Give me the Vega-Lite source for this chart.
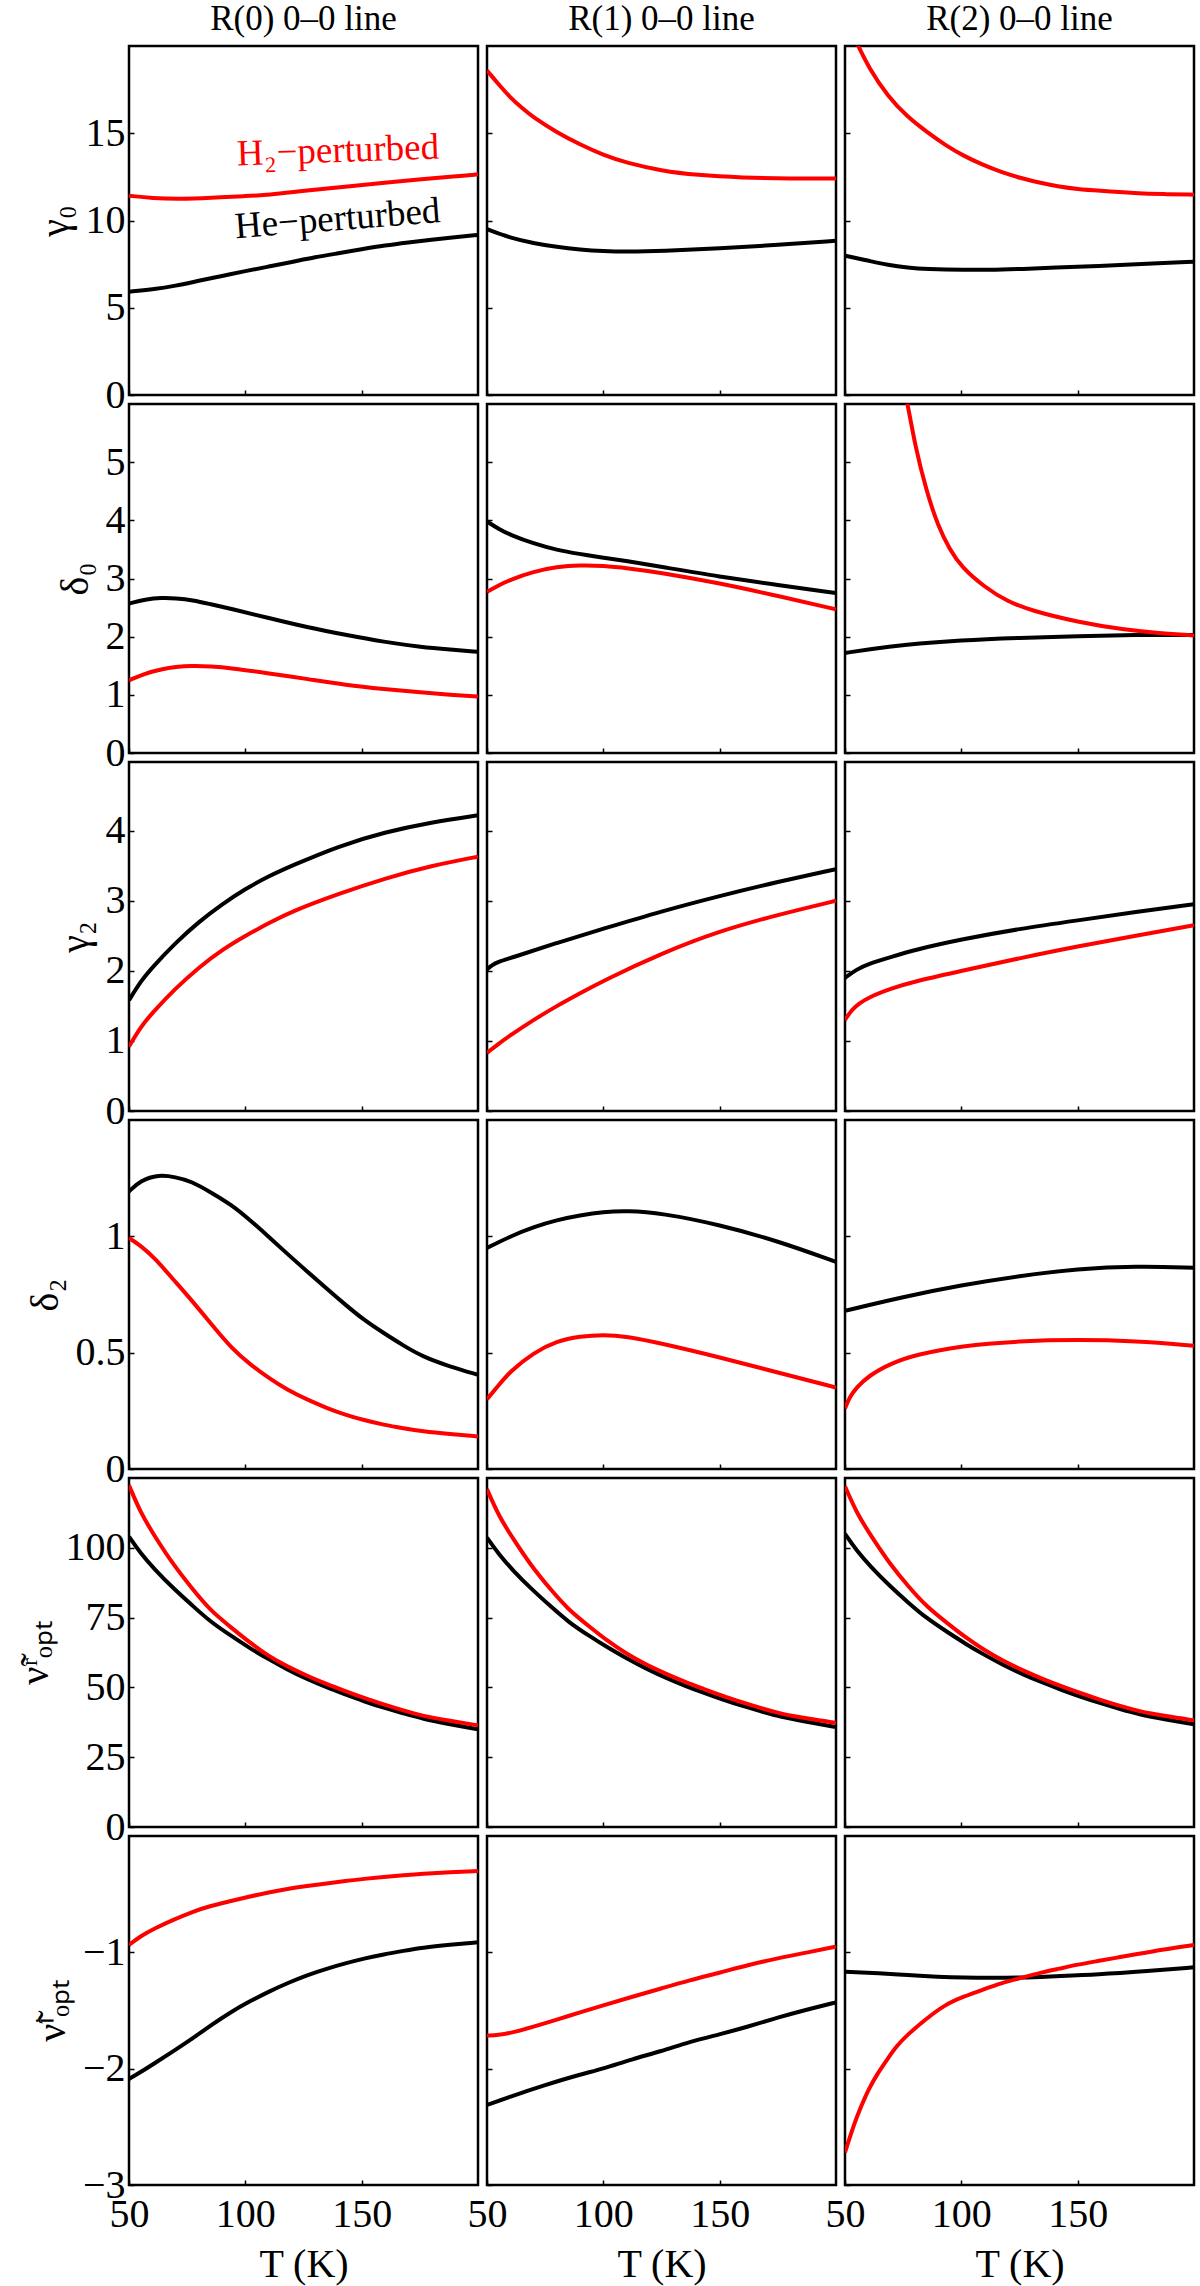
{
  "$schema": "https://vega.github.io/schema/vega-lite/v6.json",
  "background": "white",
  "padding": {"left": 13, "top": 0, "right": 0, "bottom": 0},
  "bounds": "flush",
  "columns": 3,
  "spacing": 9,
  "resolve": {"scale": {"x": "independent", "y": "independent"}},
  "config": {
    "view": {"stroke": "#000000", "strokeWidth": 2.5},
    "style": {"guide-label": {"font": "Liberation Serif", "fontSize": 40, "fill": "#000000"}, "guide-title": {"font": "Liberation Serif", "fontSize": 40, "fill": "#000000", "fontWeight": "normal"}},
    "axis": {"domain": false, "grid": false, "ticks": true, "tickSize": -5, "tickWidth": 1.5, "tickColor": "#000000", "labelFont": "Liberation Serif", "labelFontSize": 40, "labelColor": "#000000", "labelFlush": false, "labelOverlap": false, "titleFont": "Liberation Serif", "titleFontSize": 40, "titleFontWeight": "normal", "titleColor": "#000000"},
    "axisX": {"labelPadding": 14, "titlePadding": 10},
    "axisY": {"labelPadding": 9, "titlePadding": 10},
    "title": {"font": "Liberation Serif", "fontSize": 35, "fontWeight": "normal", "color": "#000000", "offset": 9, "baseline": "alphabetic"}
  },
  "datasets": {
    "lab": [{"g": "H2", "T": 140, "v": 13.35, "t": "H₂−perturbed"}, {"g": "He", "T": 140, "v": 9.45, "t": "He−perturbed"}],
    "g0_0": [
      {"g": "He", "T": 50, "v": 5.92}, {"g": "He", "T": 60, "v": 6.05}, {"g": "He", "T": 70, "v": 6.25}, {"g": "He", "T": 80, "v": 6.55}, {"g": "He", "T": 90, "v": 6.82}, {"g": "He", "T": 100, "v": 7.1}, {"g": "He", "T": 110, "v": 7.36}, {"g": "He", "T": 120, "v": 7.62}, {"g": "He", "T": 130, "v": 7.9}, {"g": "He", "T": 140, "v": 8.12}, {"g": "He", "T": 150, "v": 8.35}, {"g": "He", "T": 160, "v": 8.57}, {"g": "He", "T": 170, "v": 8.74}, {"g": "He", "T": 180, "v": 8.9}, {"g": "He", "T": 190, "v": 9.05}, {"g": "He", "T": 200, "v": 9.17},
      {"g": "H2", "T": 50, "v": 11.42}, {"g": "H2", "T": 60, "v": 11.28}, {"g": "H2", "T": 72, "v": 11.23}, {"g": "H2", "T": 85, "v": 11.3}, {"g": "H2", "T": 100, "v": 11.4}, {"g": "H2", "T": 110, "v": 11.46}, {"g": "H2", "T": 125, "v": 11.7}, {"g": "H2", "T": 143, "v": 11.94}, {"g": "H2", "T": 160, "v": 12.17}, {"g": "H2", "T": 176, "v": 12.38}, {"g": "H2", "T": 190, "v": 12.52}, {"g": "H2", "T": 200, "v": 12.65}
    ],
    "g0_1": [
      {"g": "He", "T": 50, "v": 9.5}, {"g": "He", "T": 60, "v": 9.0}, {"g": "He", "T": 70, "v": 8.7}, {"g": "He", "T": 80, "v": 8.48}, {"g": "He", "T": 90, "v": 8.33}, {"g": "He", "T": 100, "v": 8.24}, {"g": "He", "T": 110, "v": 8.21}, {"g": "He", "T": 125, "v": 8.24}, {"g": "He", "T": 150, "v": 8.4}, {"g": "He", "T": 175, "v": 8.6}, {"g": "He", "T": 200, "v": 8.84},
      {"g": "H2", "T": 50, "v": 18.6}, {"g": "H2", "T": 55, "v": 17.8}, {"g": "H2", "T": 60, "v": 17.05}, {"g": "H2", "T": 65, "v": 16.45}, {"g": "H2", "T": 70, "v": 15.9}, {"g": "H2", "T": 80, "v": 15.05}, {"g": "H2", "T": 90, "v": 14.35}, {"g": "H2", "T": 100, "v": 13.75}, {"g": "H2", "T": 110, "v": 13.3}, {"g": "H2", "T": 125, "v": 12.85}, {"g": "H2", "T": 140, "v": 12.6}, {"g": "H2", "T": 160, "v": 12.45}, {"g": "H2", "T": 180, "v": 12.4}, {"g": "H2", "T": 200, "v": 12.4}
    ],
    "g0_2": [
      {"g": "He", "T": 50, "v": 7.98}, {"g": "He", "T": 60, "v": 7.7}, {"g": "He", "T": 68.5, "v": 7.45}, {"g": "He", "T": 77, "v": 7.3}, {"g": "He", "T": 85, "v": 7.22}, {"g": "He", "T": 101, "v": 7.16}, {"g": "He", "T": 115, "v": 7.18}, {"g": "He", "T": 126, "v": 7.22}, {"g": "He", "T": 140, "v": 7.3}, {"g": "He", "T": 158.6, "v": 7.39}, {"g": "He", "T": 180, "v": 7.52}, {"g": "He", "T": 200, "v": 7.64},
      {"g": "H2", "T": 50, "v": 21.6}, {"g": "H2", "T": 55, "v": 20.2}, {"g": "H2", "T": 60.3, "v": 18.72}, {"g": "H2", "T": 68.5, "v": 17.1}, {"g": "H2", "T": 76.7, "v": 15.95}, {"g": "H2", "T": 85, "v": 15.09}, {"g": "H2", "T": 93, "v": 14.33}, {"g": "H2", "T": 101, "v": 13.7}, {"g": "H2", "T": 109.4, "v": 13.18}, {"g": "H2", "T": 117, "v": 12.78}, {"g": "H2", "T": 125.8, "v": 12.42}, {"g": "H2", "T": 134, "v": 12.15}, {"g": "H2", "T": 142.2, "v": 11.94}, {"g": "H2", "T": 150, "v": 11.8}, {"g": "H2", "T": 158.6, "v": 11.71}, {"g": "H2", "T": 175, "v": 11.56}, {"g": "H2", "T": 187, "v": 11.51}, {"g": "H2", "T": 200, "v": 11.48}
    ],
    "d0_0": [
      {"g": "He", "T": 50, "v": 2.57}, {"g": "He", "T": 57, "v": 2.64}, {"g": "He", "T": 64, "v": 2.67}, {"g": "He", "T": 70, "v": 2.66}, {"g": "He", "T": 77.4, "v": 2.63}, {"g": "He", "T": 85, "v": 2.56}, {"g": "He", "T": 93.8, "v": 2.48}, {"g": "He", "T": 110, "v": 2.32}, {"g": "He", "T": 126.6, "v": 2.16}, {"g": "He", "T": 143, "v": 2.03}, {"g": "He", "T": 159.5, "v": 1.91}, {"g": "He", "T": 176, "v": 1.82}, {"g": "He", "T": 188, "v": 1.78}, {"g": "He", "T": 200, "v": 1.74},
      {"g": "H2", "T": 50, "v": 1.25}, {"g": "H2", "T": 57, "v": 1.37}, {"g": "H2", "T": 64, "v": 1.44}, {"g": "H2", "T": 70, "v": 1.48}, {"g": "H2", "T": 77, "v": 1.5}, {"g": "H2", "T": 85, "v": 1.49}, {"g": "H2", "T": 94, "v": 1.46}, {"g": "H2", "T": 110, "v": 1.37}, {"g": "H2", "T": 127, "v": 1.27}, {"g": "H2", "T": 143, "v": 1.17}, {"g": "H2", "T": 159.5, "v": 1.1}, {"g": "H2", "T": 176, "v": 1.04}, {"g": "H2", "T": 188, "v": 1.0}, {"g": "H2", "T": 200, "v": 0.97}
    ],
    "d0_1": [
      {"g": "He", "T": 50, "v": 3.98}, {"g": "He", "T": 55, "v": 3.85}, {"g": "He", "T": 60, "v": 3.75}, {"g": "He", "T": 70, "v": 3.6}, {"g": "He", "T": 80, "v": 3.49}, {"g": "He", "T": 90, "v": 3.42}, {"g": "He", "T": 98, "v": 3.37}, {"g": "He", "T": 110, "v": 3.3}, {"g": "He", "T": 125, "v": 3.2}, {"g": "He", "T": 150, "v": 3.03}, {"g": "He", "T": 175, "v": 2.89}, {"g": "He", "T": 200, "v": 2.75},
      {"g": "H2", "T": 50, "v": 2.77}, {"g": "H2", "T": 55, "v": 2.88}, {"g": "H2", "T": 60, "v": 2.98}, {"g": "H2", "T": 70, "v": 3.12}, {"g": "H2", "T": 80, "v": 3.2}, {"g": "H2", "T": 90, "v": 3.23}, {"g": "H2", "T": 100, "v": 3.22}, {"g": "H2", "T": 110, "v": 3.18}, {"g": "H2", "T": 125, "v": 3.1}, {"g": "H2", "T": 150, "v": 2.92}, {"g": "H2", "T": 175, "v": 2.7}, {"g": "H2", "T": 200, "v": 2.47}
    ],
    "d0_2": [
      {"g": "He", "T": 50, "v": 1.72}, {"g": "He", "T": 60, "v": 1.78}, {"g": "He", "T": 75, "v": 1.86}, {"g": "He", "T": 100, "v": 1.94}, {"g": "He", "T": 125, "v": 1.98}, {"g": "He", "T": 150, "v": 2.01}, {"g": "He", "T": 175, "v": 2.03}, {"g": "He", "T": 200, "v": 2.03},
      {"g": "H2", "T": 70, "v": 7.3}, {"g": "H2", "T": 77, "v": 6.0}, {"g": "H2", "T": 80, "v": 5.3}, {"g": "H2", "T": 85, "v": 4.5}, {"g": "H2", "T": 90, "v": 3.9}, {"g": "H2", "T": 95, "v": 3.5}, {"g": "H2", "T": 100, "v": 3.2}, {"g": "H2", "T": 110, "v": 2.85}, {"g": "H2", "T": 120, "v": 2.6}, {"g": "H2", "T": 130, "v": 2.45}, {"g": "H2", "T": 150, "v": 2.25}, {"g": "H2", "T": 170, "v": 2.12}, {"g": "H2", "T": 185, "v": 2.06}, {"g": "H2", "T": 200, "v": 2.02}
    ],
    "g2_0": [
      {"g": "He", "T": 50, "v": 1.58}, {"g": "He", "T": 55, "v": 1.85}, {"g": "He", "T": 60, "v": 2.05}, {"g": "He", "T": 70, "v": 2.4}, {"g": "He", "T": 80, "v": 2.7}, {"g": "He", "T": 90, "v": 2.95}, {"g": "He", "T": 100, "v": 3.17}, {"g": "He", "T": 110, "v": 3.35}, {"g": "He", "T": 120, "v": 3.5}, {"g": "He", "T": 140, "v": 3.78}, {"g": "He", "T": 160, "v": 3.98}, {"g": "He", "T": 180, "v": 4.12}, {"g": "He", "T": 200, "v": 4.22},
      {"g": "H2", "T": 50, "v": 0.92}, {"g": "H2", "T": 55, "v": 1.2}, {"g": "H2", "T": 60, "v": 1.4}, {"g": "H2", "T": 70, "v": 1.75}, {"g": "H2", "T": 80, "v": 2.05}, {"g": "H2", "T": 90, "v": 2.3}, {"g": "H2", "T": 100, "v": 2.5}, {"g": "H2", "T": 110, "v": 2.68}, {"g": "H2", "T": 120, "v": 2.85}, {"g": "H2", "T": 140, "v": 3.1}, {"g": "H2", "T": 160, "v": 3.32}, {"g": "H2", "T": 180, "v": 3.5}, {"g": "H2", "T": 200, "v": 3.63}
    ],
    "g2_1": [
      {"g": "He", "T": 50, "v": 2.02}, {"g": "He", "T": 52, "v": 2.08}, {"g": "He", "T": 55, "v": 2.13}, {"g": "He", "T": 60, "v": 2.18}, {"g": "He", "T": 80, "v": 2.4}, {"g": "He", "T": 100, "v": 2.6}, {"g": "He", "T": 125, "v": 2.85}, {"g": "He", "T": 150, "v": 3.07}, {"g": "He", "T": 175, "v": 3.27}, {"g": "He", "T": 200, "v": 3.45},
      {"g": "H2", "T": 50, "v": 0.83}, {"g": "H2", "T": 55, "v": 0.96}, {"g": "H2", "T": 60, "v": 1.08}, {"g": "H2", "T": 70, "v": 1.3}, {"g": "H2", "T": 80, "v": 1.5}, {"g": "H2", "T": 90, "v": 1.68}, {"g": "H2", "T": 100, "v": 1.86}, {"g": "H2", "T": 125, "v": 2.25}, {"g": "H2", "T": 150, "v": 2.57}, {"g": "H2", "T": 175, "v": 2.8}, {"g": "H2", "T": 200, "v": 3.0}
    ],
    "g2_2": [
      {"g": "He", "T": 50, "v": 1.9}, {"g": "He", "T": 55, "v": 2.02}, {"g": "He", "T": 60, "v": 2.1}, {"g": "He", "T": 70, "v": 2.2}, {"g": "He", "T": 80, "v": 2.3}, {"g": "He", "T": 100, "v": 2.45}, {"g": "He", "T": 125, "v": 2.6}, {"g": "He", "T": 150, "v": 2.72}, {"g": "He", "T": 175, "v": 2.84}, {"g": "He", "T": 200, "v": 2.95},
      {"g": "H2", "T": 50, "v": 1.3}, {"g": "H2", "T": 53, "v": 1.45}, {"g": "H2", "T": 56, "v": 1.53}, {"g": "H2", "T": 60, "v": 1.62}, {"g": "H2", "T": 70, "v": 1.75}, {"g": "H2", "T": 80, "v": 1.85}, {"g": "H2", "T": 100, "v": 2.0}, {"g": "H2", "T": 125, "v": 2.18}, {"g": "H2", "T": 150, "v": 2.35}, {"g": "H2", "T": 175, "v": 2.5}, {"g": "H2", "T": 200, "v": 2.65}
    ],
    "d2_0": [
      {"g": "He", "T": 50, "v": 1.193}, {"g": "He", "T": 55, "v": 1.24}, {"g": "He", "T": 62.6, "v": 1.265}, {"g": "He", "T": 70, "v": 1.255}, {"g": "He", "T": 77, "v": 1.236}, {"g": "He", "T": 85, "v": 1.19}, {"g": "He", "T": 94, "v": 1.136}, {"g": "He", "T": 102, "v": 1.07}, {"g": "He", "T": 110, "v": 0.999}, {"g": "He", "T": 118, "v": 0.925}, {"g": "He", "T": 126.6, "v": 0.849}, {"g": "He", "T": 135, "v": 0.775}, {"g": "He", "T": 143, "v": 0.706}, {"g": "He", "T": 151, "v": 0.64}, {"g": "He", "T": 159.5, "v": 0.584}, {"g": "He", "T": 168, "v": 0.53}, {"g": "He", "T": 176, "v": 0.484}, {"g": "He", "T": 188, "v": 0.44}, {"g": "He", "T": 200, "v": 0.405},
      {"g": "H2", "T": 50, "v": 0.993}, {"g": "H2", "T": 55, "v": 0.96}, {"g": "H2", "T": 61, "v": 0.907}, {"g": "H2", "T": 69, "v": 0.815}, {"g": "H2", "T": 77.4, "v": 0.72}, {"g": "H2", "T": 86, "v": 0.615}, {"g": "H2", "T": 94, "v": 0.52}, {"g": "H2", "T": 102, "v": 0.45}, {"g": "H2", "T": 110, "v": 0.391}, {"g": "H2", "T": 118, "v": 0.34}, {"g": "H2", "T": 126.6, "v": 0.298}, {"g": "H2", "T": 135, "v": 0.262}, {"g": "H2", "T": 143, "v": 0.233}, {"g": "H2", "T": 151, "v": 0.21}, {"g": "H2", "T": 159.5, "v": 0.19}, {"g": "H2", "T": 168, "v": 0.175}, {"g": "H2", "T": 176, "v": 0.162}, {"g": "H2", "T": 188, "v": 0.15}, {"g": "H2", "T": 200, "v": 0.14}
    ],
    "d2_1": [
      {"g": "He", "T": 50, "v": 0.95}, {"g": "He", "T": 60, "v": 1.0}, {"g": "He", "T": 70, "v": 1.04}, {"g": "He", "T": 80, "v": 1.07}, {"g": "He", "T": 90, "v": 1.09}, {"g": "He", "T": 100, "v": 1.105}, {"g": "He", "T": 110, "v": 1.11}, {"g": "He", "T": 125, "v": 1.1}, {"g": "He", "T": 150, "v": 1.05}, {"g": "He", "T": 175, "v": 0.98}, {"g": "He", "T": 200, "v": 0.89},
      {"g": "H2", "T": 50, "v": 0.3}, {"g": "H2", "T": 55, "v": 0.36}, {"g": "H2", "T": 60, "v": 0.42}, {"g": "H2", "T": 70, "v": 0.5}, {"g": "H2", "T": 80, "v": 0.55}, {"g": "H2", "T": 90, "v": 0.57}, {"g": "H2", "T": 100, "v": 0.578}, {"g": "H2", "T": 110, "v": 0.57}, {"g": "H2", "T": 125, "v": 0.54}, {"g": "H2", "T": 150, "v": 0.48}, {"g": "H2", "T": 175, "v": 0.415}, {"g": "H2", "T": 200, "v": 0.35}
    ],
    "d2_2": [
      {"g": "He", "T": 50, "v": 0.68}, {"g": "He", "T": 75, "v": 0.74}, {"g": "He", "T": 100, "v": 0.79}, {"g": "He", "T": 125, "v": 0.83}, {"g": "He", "T": 150, "v": 0.86}, {"g": "He", "T": 175, "v": 0.872}, {"g": "He", "T": 200, "v": 0.865},
      {"g": "H2", "T": 50, "v": 0.26}, {"g": "H2", "T": 52, "v": 0.31}, {"g": "H2", "T": 55, "v": 0.35}, {"g": "H2", "T": 60, "v": 0.4}, {"g": "H2", "T": 70, "v": 0.455}, {"g": "H2", "T": 80, "v": 0.49}, {"g": "H2", "T": 100, "v": 0.53}, {"g": "H2", "T": 125, "v": 0.55}, {"g": "H2", "T": 150, "v": 0.556}, {"g": "H2", "T": 175, "v": 0.55}, {"g": "H2", "T": 200, "v": 0.53}
    ],
    "nr_0": [
      {"g": "He", "T": 50, "v": 104}, {"g": "He", "T": 55, "v": 98}, {"g": "He", "T": 61, "v": 92.3}, {"g": "He", "T": 69, "v": 85.5}, {"g": "He", "T": 77.4, "v": 79.2}, {"g": "He", "T": 85, "v": 73.5}, {"g": "He", "T": 94, "v": 68.4}, {"g": "He", "T": 102, "v": 64}, {"g": "He", "T": 110, "v": 60.1}, {"g": "He", "T": 118, "v": 56.4}, {"g": "He", "T": 126.6, "v": 52.9}, {"g": "He", "T": 135, "v": 50}, {"g": "He", "T": 143, "v": 47.5}, {"g": "He", "T": 151, "v": 45}, {"g": "He", "T": 159.5, "v": 42.7}, {"g": "He", "T": 168, "v": 40.7}, {"g": "He", "T": 176, "v": 38.8}, {"g": "He", "T": 188, "v": 36.8}, {"g": "He", "T": 200, "v": 35.0},
      {"g": "H2", "T": 50, "v": 122.4}, {"g": "H2", "T": 55, "v": 112.5}, {"g": "H2", "T": 61, "v": 104.2}, {"g": "H2", "T": 69, "v": 94}, {"g": "H2", "T": 77.4, "v": 85.1}, {"g": "H2", "T": 85, "v": 77.5}, {"g": "H2", "T": 94, "v": 71.4}, {"g": "H2", "T": 102, "v": 66}, {"g": "H2", "T": 110, "v": 61.2}, {"g": "H2", "T": 118, "v": 57.5}, {"g": "H2", "T": 126.6, "v": 54.1}, {"g": "H2", "T": 135, "v": 51.2}, {"g": "H2", "T": 143, "v": 48.7}, {"g": "H2", "T": 151, "v": 46.2}, {"g": "H2", "T": 159.5, "v": 43.9}, {"g": "H2", "T": 168, "v": 41.7}, {"g": "H2", "T": 176, "v": 39.8}, {"g": "H2", "T": 188, "v": 38}, {"g": "H2", "T": 200, "v": 36.4}
    ],
    "nr_1": [
      {"g": "He", "T": 50, "v": 103.6}, {"g": "He", "T": 55, "v": 97.8}, {"g": "He", "T": 61, "v": 92}, {"g": "He", "T": 69, "v": 85.3}, {"g": "He", "T": 77.4, "v": 79}, {"g": "He", "T": 85, "v": 73.4}, {"g": "He", "T": 94, "v": 68.4}, {"g": "He", "T": 102, "v": 64.2}, {"g": "He", "T": 110, "v": 60.4}, {"g": "He", "T": 118, "v": 56.9}, {"g": "He", "T": 126.6, "v": 53.5}, {"g": "He", "T": 135, "v": 50.6}, {"g": "He", "T": 143, "v": 48.1}, {"g": "He", "T": 151, "v": 45.7}, {"g": "He", "T": 159.5, "v": 43.4}, {"g": "He", "T": 168, "v": 41.4}, {"g": "He", "T": 176, "v": 39.5}, {"g": "He", "T": 188, "v": 37.6}, {"g": "He", "T": 200, "v": 35.8},
      {"g": "H2", "T": 50, "v": 121}, {"g": "H2", "T": 55, "v": 111.5}, {"g": "H2", "T": 61, "v": 103.5}, {"g": "H2", "T": 69, "v": 93.5}, {"g": "H2", "T": 77.4, "v": 85}, {"g": "H2", "T": 85, "v": 77.8}, {"g": "H2", "T": 94, "v": 71.8}, {"g": "H2", "T": 102, "v": 66.5}, {"g": "H2", "T": 110, "v": 62}, {"g": "H2", "T": 118, "v": 58.3}, {"g": "H2", "T": 126.6, "v": 55}, {"g": "H2", "T": 135, "v": 52}, {"g": "H2", "T": 143, "v": 49.5}, {"g": "H2", "T": 151, "v": 47}, {"g": "H2", "T": 159.5, "v": 44.7}, {"g": "H2", "T": 168, "v": 42.5}, {"g": "H2", "T": 176, "v": 40.6}, {"g": "H2", "T": 188, "v": 38.8}, {"g": "H2", "T": 200, "v": 37.3}
    ],
    "nr_2": [
      {"g": "He", "T": 50, "v": 105}, {"g": "He", "T": 55, "v": 99}, {"g": "He", "T": 61, "v": 93.3}, {"g": "He", "T": 69, "v": 86.5}, {"g": "He", "T": 77.4, "v": 80.2}, {"g": "He", "T": 85, "v": 74.8}, {"g": "He", "T": 94, "v": 69.8}, {"g": "He", "T": 102, "v": 65.5}, {"g": "He", "T": 110, "v": 61.6}, {"g": "He", "T": 118, "v": 58}, {"g": "He", "T": 126.6, "v": 54.6}, {"g": "He", "T": 135, "v": 51.7}, {"g": "He", "T": 143, "v": 49.1}, {"g": "He", "T": 151, "v": 46.7}, {"g": "He", "T": 159.5, "v": 44.4}, {"g": "He", "T": 168, "v": 42.3}, {"g": "He", "T": 176, "v": 40.4}, {"g": "He", "T": 188, "v": 38.5}, {"g": "He", "T": 200, "v": 36.8},
      {"g": "H2", "T": 50, "v": 122}, {"g": "H2", "T": 55, "v": 112.5}, {"g": "H2", "T": 61, "v": 104.5}, {"g": "H2", "T": 69, "v": 94.5}, {"g": "H2", "T": 77.4, "v": 86}, {"g": "H2", "T": 85, "v": 79}, {"g": "H2", "T": 94, "v": 73}, {"g": "H2", "T": 102, "v": 67.8}, {"g": "H2", "T": 110, "v": 63.3}, {"g": "H2", "T": 118, "v": 59.5}, {"g": "H2", "T": 126.6, "v": 56}, {"g": "H2", "T": 135, "v": 53}, {"g": "H2", "T": 143, "v": 50.4}, {"g": "H2", "T": 151, "v": 48}, {"g": "H2", "T": 159.5, "v": 45.6}, {"g": "H2", "T": 168, "v": 43.4}, {"g": "H2", "T": 176, "v": 41.5}, {"g": "H2", "T": 188, "v": 39.7}, {"g": "H2", "T": 200, "v": 38.2}
    ],
    "ni_0": [
      {"g": "He", "T": 50, "v": -2.089}, {"g": "He", "T": 55, "v": -2.03}, {"g": "He", "T": 61, "v": -1.954}, {"g": "He", "T": 69, "v": -1.85}, {"g": "He", "T": 77.4, "v": -1.739}, {"g": "He", "T": 85, "v": -1.63}, {"g": "He", "T": 94, "v": -1.51}, {"g": "He", "T": 102, "v": -1.42}, {"g": "He", "T": 110, "v": -1.338}, {"g": "He", "T": 118, "v": -1.265}, {"g": "He", "T": 126.6, "v": -1.195}, {"g": "He", "T": 135, "v": -1.14}, {"g": "He", "T": 143, "v": -1.094}, {"g": "He", "T": 151, "v": -1.053}, {"g": "He", "T": 159.5, "v": -1.017}, {"g": "He", "T": 168, "v": -0.987}, {"g": "He", "T": 176, "v": -0.96}, {"g": "He", "T": 188, "v": -0.935}, {"g": "He", "T": 200, "v": -0.914},
      {"g": "H2", "T": 50, "v": -0.937}, {"g": "H2", "T": 55, "v": -0.86}, {"g": "H2", "T": 61, "v": -0.794}, {"g": "H2", "T": 69, "v": -0.72}, {"g": "H2", "T": 77.4, "v": -0.65}, {"g": "H2", "T": 85, "v": -0.6}, {"g": "H2", "T": 94, "v": -0.559}, {"g": "H2", "T": 102, "v": -0.52}, {"g": "H2", "T": 110, "v": -0.484}, {"g": "H2", "T": 118, "v": -0.455}, {"g": "H2", "T": 126.6, "v": -0.43}, {"g": "H2", "T": 135, "v": -0.407}, {"g": "H2", "T": 143, "v": -0.387}, {"g": "H2", "T": 151, "v": -0.368}, {"g": "H2", "T": 159.5, "v": -0.352}, {"g": "H2", "T": 168, "v": -0.337}, {"g": "H2", "T": 176, "v": -0.324}, {"g": "H2", "T": 188, "v": -0.311}, {"g": "H2", "T": 200, "v": -0.301}
    ],
    "ni_1": [
      {"g": "He", "T": 50, "v": -2.312}, {"g": "He", "T": 60, "v": -2.24}, {"g": "He", "T": 75, "v": -2.14}, {"g": "He", "T": 90, "v": -2.05}, {"g": "He", "T": 100, "v": -2.0}, {"g": "He", "T": 112, "v": -1.92}, {"g": "He", "T": 125, "v": -1.85}, {"g": "He", "T": 137, "v": -1.77}, {"g": "He", "T": 150, "v": -1.705}, {"g": "He", "T": 162, "v": -1.64}, {"g": "He", "T": 175, "v": -1.56}, {"g": "He", "T": 188, "v": -1.49}, {"g": "He", "T": 200, "v": -1.43},
      {"g": "H2", "T": 50, "v": -1.716}, {"g": "H2", "T": 55, "v": -1.71}, {"g": "H2", "T": 60, "v": -1.695}, {"g": "H2", "T": 70, "v": -1.64}, {"g": "H2", "T": 80, "v": -1.58}, {"g": "H2", "T": 90, "v": -1.515}, {"g": "H2", "T": 100, "v": -1.455}, {"g": "H2", "T": 112, "v": -1.385}, {"g": "H2", "T": 125, "v": -1.31}, {"g": "H2", "T": 137, "v": -1.24}, {"g": "H2", "T": 150, "v": -1.175}, {"g": "H2", "T": 162, "v": -1.11}, {"g": "H2", "T": 175, "v": -1.05}, {"g": "H2", "T": 188, "v": -1.0}, {"g": "H2", "T": 200, "v": -0.951}
    ],
    "ni_2": [
      {"g": "He", "T": 50, "v": -1.166}, {"g": "He", "T": 65, "v": -1.18}, {"g": "He", "T": 76.7, "v": -1.195}, {"g": "He", "T": 90, "v": -1.21}, {"g": "He", "T": 101, "v": -1.218}, {"g": "He", "T": 113, "v": -1.22}, {"g": "He", "T": 125.8, "v": -1.218}, {"g": "He", "T": 140, "v": -1.205}, {"g": "He", "T": 158.6, "v": -1.19}, {"g": "He", "T": 180, "v": -1.16}, {"g": "He", "T": 200, "v": -1.129},
      {"g": "H2", "T": 50, "v": -2.72}, {"g": "H2", "T": 53.8, "v": -2.48}, {"g": "H2", "T": 57, "v": -2.32}, {"g": "H2", "T": 60.3, "v": -2.17}, {"g": "H2", "T": 64, "v": -2.04}, {"g": "H2", "T": 68.5, "v": -1.91}, {"g": "H2", "T": 72, "v": -1.81}, {"g": "H2", "T": 76.7, "v": -1.71}, {"g": "H2", "T": 85, "v": -1.57}, {"g": "H2", "T": 93, "v": -1.45}, {"g": "H2", "T": 101, "v": -1.38}, {"g": "H2", "T": 109.4, "v": -1.32}, {"g": "H2", "T": 117, "v": -1.265}, {"g": "H2", "T": 125.8, "v": -1.22}, {"g": "H2", "T": 134, "v": -1.175}, {"g": "H2", "T": 142.2, "v": -1.14}, {"g": "H2", "T": 150, "v": -1.105}, {"g": "H2", "T": 158.6, "v": -1.075}, {"g": "H2", "T": 167, "v": -1.045}, {"g": "H2", "T": 175, "v": -1.017}, {"g": "H2", "T": 187, "v": -0.975}, {"g": "H2", "T": 200, "v": -0.937}
    ]
  },
  "concat": [
    {"width": 349, "height": 349, "title": "R(0) 0–0 line", "layer": [
      {"data": {"name": "g0_0"}, "mark": {"type": "line", "strokeWidth": 4, "interpolate": "basis", "clip": true},
       "encoding": {"x": {"field": "T", "type": "quantitative", "scale": {"domain": [50, 200], "nice": false, "zero": false}, "axis": {"values": [50, 100, 150], "labels": false, "title": null}},
        "y": {"field": "v", "type": "quantitative", "scale": {"domain": [0, 20], "nice": false, "zero": false}, "axis": {"values": [0, 5, 10, 15], "title": "γ₀"}},
        "color": {"field": "g", "type": "nominal", "scale": {"domain": ["He", "H2"], "range": ["#000000", "#ff0000"]}, "legend": null}}},
      {"data": {"name": "lab"}, "transform": [{"filter": "datum.g == 'H2'"}], "mark": {"type": "text", "font": "Liberation Serif", "fontSize": 37, "angle": 358, "align": "center", "baseline": "alphabetic"},
       "encoding": {"x": {"field": "T", "type": "quantitative"}, "y": {"field": "v", "type": "quantitative"}, "text": {"field": "t"}, "color": {"field": "g", "type": "nominal", "legend": null}}},
      {"data": {"name": "lab"}, "transform": [{"filter": "datum.g == 'He'"}], "mark": {"type": "text", "font": "Liberation Serif", "fontSize": 37, "angle": 355.5, "align": "center", "baseline": "alphabetic"},
       "encoding": {"x": {"field": "T", "type": "quantitative"}, "y": {"field": "v", "type": "quantitative"}, "text": {"field": "t"}, "color": {"field": "g", "type": "nominal", "legend": null}}}
    ]},
    {"width": 349, "height": 349, "title": "R(1) 0–0 line", "data": {"name": "g0_1"}, "mark": {"type": "line", "strokeWidth": 4, "interpolate": "basis", "clip": true},
     "encoding": {"x": {"field": "T", "type": "quantitative", "scale": {"domain": [50, 200], "nice": false, "zero": false}, "axis": {"values": [50, 100, 150], "labels": false, "title": null}},
      "y": {"field": "v", "type": "quantitative", "scale": {"domain": [0, 20], "nice": false, "zero": false}, "axis": {"values": [0, 5, 10, 15], "labels": false, "title": null}},
      "color": {"field": "g", "type": "nominal", "scale": {"domain": ["He", "H2"], "range": ["#000000", "#ff0000"]}, "legend": null}}},
    {"width": 349, "height": 349, "title": "R(2) 0–0 line", "data": {"name": "g0_2"}, "mark": {"type": "line", "strokeWidth": 4, "interpolate": "basis", "clip": true},
     "encoding": {"x": {"field": "T", "type": "quantitative", "scale": {"domain": [50, 200], "nice": false, "zero": false}, "axis": {"values": [50, 100, 150], "labels": false, "title": null}},
      "y": {"field": "v", "type": "quantitative", "scale": {"domain": [0, 20], "nice": false, "zero": false}, "axis": {"values": [0, 5, 10, 15], "labels": false, "title": null}},
      "color": {"field": "g", "type": "nominal", "scale": {"domain": ["He", "H2"], "range": ["#000000", "#ff0000"]}, "legend": null}}},

    {"width": 349, "height": 349, "data": {"name": "d0_0"}, "mark": {"type": "line", "strokeWidth": 4, "interpolate": "basis", "clip": true},
     "encoding": {"x": {"field": "T", "type": "quantitative", "scale": {"domain": [50, 200], "nice": false, "zero": false}, "axis": {"values": [50, 100, 150], "labels": false, "title": null}},
      "y": {"field": "v", "type": "quantitative", "scale": {"domain": [0, 6], "nice": false, "zero": false}, "axis": {"values": [0, 1, 2, 3, 4, 5], "title": "δ₀"}},
      "color": {"field": "g", "type": "nominal", "scale": {"domain": ["He", "H2"], "range": ["#000000", "#ff0000"]}, "legend": null}}},
    {"width": 349, "height": 349, "data": {"name": "d0_1"}, "mark": {"type": "line", "strokeWidth": 4, "interpolate": "basis", "clip": true},
     "encoding": {"x": {"field": "T", "type": "quantitative", "scale": {"domain": [50, 200], "nice": false, "zero": false}, "axis": {"values": [50, 100, 150], "labels": false, "title": null}},
      "y": {"field": "v", "type": "quantitative", "scale": {"domain": [0, 6], "nice": false, "zero": false}, "axis": {"values": [0, 1, 2, 3, 4, 5], "labels": false, "title": null}},
      "color": {"field": "g", "type": "nominal", "scale": {"domain": ["He", "H2"], "range": ["#000000", "#ff0000"]}, "legend": null}}},
    {"width": 349, "height": 349, "data": {"name": "d0_2"}, "mark": {"type": "line", "strokeWidth": 4, "interpolate": "basis", "clip": true},
     "encoding": {"x": {"field": "T", "type": "quantitative", "scale": {"domain": [50, 200], "nice": false, "zero": false}, "axis": {"values": [50, 100, 150], "labels": false, "title": null}},
      "y": {"field": "v", "type": "quantitative", "scale": {"domain": [0, 6], "nice": false, "zero": false}, "axis": {"values": [0, 1, 2, 3, 4, 5], "labels": false, "title": null}},
      "color": {"field": "g", "type": "nominal", "scale": {"domain": ["He", "H2"], "range": ["#000000", "#ff0000"]}, "legend": null}}},

    {"width": 349, "height": 349, "data": {"name": "g2_0"}, "mark": {"type": "line", "strokeWidth": 4, "interpolate": "basis", "clip": true},
     "encoding": {"x": {"field": "T", "type": "quantitative", "scale": {"domain": [50, 200], "nice": false, "zero": false}, "axis": {"values": [50, 100, 150], "labels": false, "title": null}},
      "y": {"field": "v", "type": "quantitative", "scale": {"domain": [0, 4.98], "nice": false, "zero": false}, "axis": {"values": [0, 1, 2, 3, 4], "title": "γ₂"}},
      "color": {"field": "g", "type": "nominal", "scale": {"domain": ["He", "H2"], "range": ["#000000", "#ff0000"]}, "legend": null}}},
    {"width": 349, "height": 349, "data": {"name": "g2_1"}, "mark": {"type": "line", "strokeWidth": 4, "interpolate": "basis", "clip": true},
     "encoding": {"x": {"field": "T", "type": "quantitative", "scale": {"domain": [50, 200], "nice": false, "zero": false}, "axis": {"values": [50, 100, 150], "labels": false, "title": null}},
      "y": {"field": "v", "type": "quantitative", "scale": {"domain": [0, 4.98], "nice": false, "zero": false}, "axis": {"values": [0, 1, 2, 3, 4], "labels": false, "title": null}},
      "color": {"field": "g", "type": "nominal", "scale": {"domain": ["He", "H2"], "range": ["#000000", "#ff0000"]}, "legend": null}}},
    {"width": 349, "height": 349, "data": {"name": "g2_2"}, "mark": {"type": "line", "strokeWidth": 4, "interpolate": "basis", "clip": true},
     "encoding": {"x": {"field": "T", "type": "quantitative", "scale": {"domain": [50, 200], "nice": false, "zero": false}, "axis": {"values": [50, 100, 150], "labels": false, "title": null}},
      "y": {"field": "v", "type": "quantitative", "scale": {"domain": [0, 4.98], "nice": false, "zero": false}, "axis": {"values": [0, 1, 2, 3, 4], "labels": false, "title": null}},
      "color": {"field": "g", "type": "nominal", "scale": {"domain": ["He", "H2"], "range": ["#000000", "#ff0000"]}, "legend": null}}},

    {"width": 349, "height": 349, "data": {"name": "d2_0"}, "mark": {"type": "line", "strokeWidth": 4, "interpolate": "basis", "clip": true},
     "encoding": {"x": {"field": "T", "type": "quantitative", "scale": {"domain": [50, 200], "nice": false, "zero": false}, "axis": {"values": [50, 100, 150], "labels": false, "title": null}},
      "y": {"field": "v", "type": "quantitative", "scale": {"domain": [0, 1.5], "nice": false, "zero": false}, "axis": {"values": [0, 0.5, 1], "format": "~r", "title": "δ₂"}},
      "color": {"field": "g", "type": "nominal", "scale": {"domain": ["He", "H2"], "range": ["#000000", "#ff0000"]}, "legend": null}}},
    {"width": 349, "height": 349, "data": {"name": "d2_1"}, "mark": {"type": "line", "strokeWidth": 4, "interpolate": "basis", "clip": true},
     "encoding": {"x": {"field": "T", "type": "quantitative", "scale": {"domain": [50, 200], "nice": false, "zero": false}, "axis": {"values": [50, 100, 150], "labels": false, "title": null}},
      "y": {"field": "v", "type": "quantitative", "scale": {"domain": [0, 1.5], "nice": false, "zero": false}, "axis": {"values": [0, 0.5, 1], "labels": false, "title": null}},
      "color": {"field": "g", "type": "nominal", "scale": {"domain": ["He", "H2"], "range": ["#000000", "#ff0000"]}, "legend": null}}},
    {"width": 349, "height": 349, "data": {"name": "d2_2"}, "mark": {"type": "line", "strokeWidth": 4, "interpolate": "basis", "clip": true},
     "encoding": {"x": {"field": "T", "type": "quantitative", "scale": {"domain": [50, 200], "nice": false, "zero": false}, "axis": {"values": [50, 100, 150], "labels": false, "title": null}},
      "y": {"field": "v", "type": "quantitative", "scale": {"domain": [0, 1.5], "nice": false, "zero": false}, "axis": {"values": [0, 0.5, 1], "labels": false, "title": null}},
      "color": {"field": "g", "type": "nominal", "scale": {"domain": ["He", "H2"], "range": ["#000000", "#ff0000"]}, "legend": null}}},

    {"width": 349, "height": 349, "data": {"name": "nr_0"}, "mark": {"type": "line", "strokeWidth": 4, "interpolate": "basis", "clip": true},
     "encoding": {"x": {"field": "T", "type": "quantitative", "scale": {"domain": [50, 200], "nice": false, "zero": false}, "axis": {"values": [50, 100, 150], "labels": false, "title": null}},
      "y": {"field": "v", "type": "quantitative", "scale": {"domain": [0, 125], "nice": false, "zero": false}, "axis": {"values": [0, 25, 50, 75, 100], "format": "d", "title": "ν̃ʳₒₚₜ"}},
      "color": {"field": "g", "type": "nominal", "scale": {"domain": ["He", "H2"], "range": ["#000000", "#ff0000"]}, "legend": null}}},
    {"width": 349, "height": 349, "data": {"name": "nr_1"}, "mark": {"type": "line", "strokeWidth": 4, "interpolate": "basis", "clip": true},
     "encoding": {"x": {"field": "T", "type": "quantitative", "scale": {"domain": [50, 200], "nice": false, "zero": false}, "axis": {"values": [50, 100, 150], "labels": false, "title": null}},
      "y": {"field": "v", "type": "quantitative", "scale": {"domain": [0, 125], "nice": false, "zero": false}, "axis": {"values": [0, 25, 50, 75, 100], "labels": false, "title": null}},
      "color": {"field": "g", "type": "nominal", "scale": {"domain": ["He", "H2"], "range": ["#000000", "#ff0000"]}, "legend": null}}},
    {"width": 349, "height": 349, "data": {"name": "nr_2"}, "mark": {"type": "line", "strokeWidth": 4, "interpolate": "basis", "clip": true},
     "encoding": {"x": {"field": "T", "type": "quantitative", "scale": {"domain": [50, 200], "nice": false, "zero": false}, "axis": {"values": [50, 100, 150], "labels": false, "title": null}},
      "y": {"field": "v", "type": "quantitative", "scale": {"domain": [0, 125], "nice": false, "zero": false}, "axis": {"values": [0, 25, 50, 75, 100], "labels": false, "title": null}},
      "color": {"field": "g", "type": "nominal", "scale": {"domain": ["He", "H2"], "range": ["#000000", "#ff0000"]}, "legend": null}}},

    {"width": 349, "height": 349, "data": {"name": "ni_0"}, "mark": {"type": "line", "strokeWidth": 4, "interpolate": "basis", "clip": true},
     "encoding": {"x": {"field": "T", "type": "quantitative", "scale": {"domain": [50, 200], "nice": false, "zero": false}, "axis": {"values": [50, 100, 150], "format": "d", "title": "T (K)"}},
      "y": {"field": "v", "type": "quantitative", "scale": {"domain": [-3, 0], "nice": false, "zero": false}, "axis": {"values": [-3, -2, -1], "format": "d", "title": "ν̃ⁱₒₚₜ"}},
      "color": {"field": "g", "type": "nominal", "scale": {"domain": ["He", "H2"], "range": ["#000000", "#ff0000"]}, "legend": null}}},
    {"width": 349, "height": 349, "data": {"name": "ni_1"}, "mark": {"type": "line", "strokeWidth": 4, "interpolate": "basis", "clip": true},
     "encoding": {"x": {"field": "T", "type": "quantitative", "scale": {"domain": [50, 200], "nice": false, "zero": false}, "axis": {"values": [50, 100, 150], "format": "d", "title": "T (K)"}},
      "y": {"field": "v", "type": "quantitative", "scale": {"domain": [-3, 0], "nice": false, "zero": false}, "axis": {"values": [-3, -2, -1], "labels": false, "title": null}},
      "color": {"field": "g", "type": "nominal", "scale": {"domain": ["He", "H2"], "range": ["#000000", "#ff0000"]}, "legend": null}}},
    {"width": 349, "height": 349, "data": {"name": "ni_2"}, "mark": {"type": "line", "strokeWidth": 4, "interpolate": "basis", "clip": true},
     "encoding": {"x": {"field": "T", "type": "quantitative", "scale": {"domain": [50, 200], "nice": false, "zero": false}, "axis": {"values": [50, 100, 150], "format": "d", "title": "T (K)"}},
      "y": {"field": "v", "type": "quantitative", "scale": {"domain": [-3, 0], "nice": false, "zero": false}, "axis": {"values": [-3, -2, -1], "labels": false, "title": null}},
      "color": {"field": "g", "type": "nominal", "scale": {"domain": ["He", "H2"], "range": ["#000000", "#ff0000"]}, "legend": null}}}
  ]
}
